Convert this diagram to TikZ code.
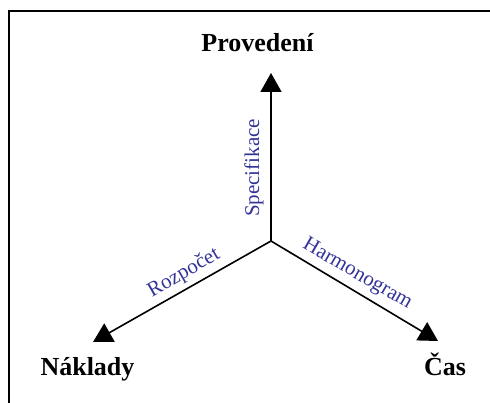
\documentclass[tikz,border=0pt]{standalone}
\usepackage{fontspec}
\setmainfont{Liberation Serif}
\usetikzlibrary{arrows.meta}
\definecolor{lblblue}{RGB}{51,51,153}
\tikzset{
  axis/.style={line width=1.6pt, -{Triangle[width=21pt,length=19pt]}},
  frameline/.style={line width=1.6pt},
  corner/.style={font=\fontsize{26}{30}\selectfont\bfseries, inner sep=0pt, anchor=base},
  axlabel/.style={font=\fontsize{21}{25}\selectfont, text=lblblue, inner sep=0pt, anchor=base}
}
\begin{document}
\begin{tikzpicture}[x=1pt,y=-1pt]
\useasboundingbox (0,0) rectangle (490,403);
% frame (cropped)
\coordinate (F1) at (9,403);
\coordinate (F2) at (9,11);
\coordinate (F3) at (490,11);
\draw[frameline] (F1) -- (F2) -- (F3);
% axes
\coordinate (C) at (271,241);
\coordinate (T) at (271,73);
\coordinate (L) at (93,342);
\coordinate (R) at (438,341);
\draw[axis] (C) -- (T);
\draw[axis] (C) -- (L);
\draw[axis] (C) -- (R);
% corner labels
\node[corner] (prov) at (257.5,52) {Provedení};
\node[corner] (nakl) at (87.5,375) {Náklady};
\node[corner] (cas) at (445,375) {Čas};
% axis labels
\node[axlabel, rotate=90] (spec) at (259,168) {Specifikace};
\node[axlabel, rotate=30] (rozp) at (186.5,277.5) {Rozpočet};
\node[axlabel, rotate=-30] (harm) at (355,278.5) {Harmonogram};
\end{tikzpicture}
\end{document}
